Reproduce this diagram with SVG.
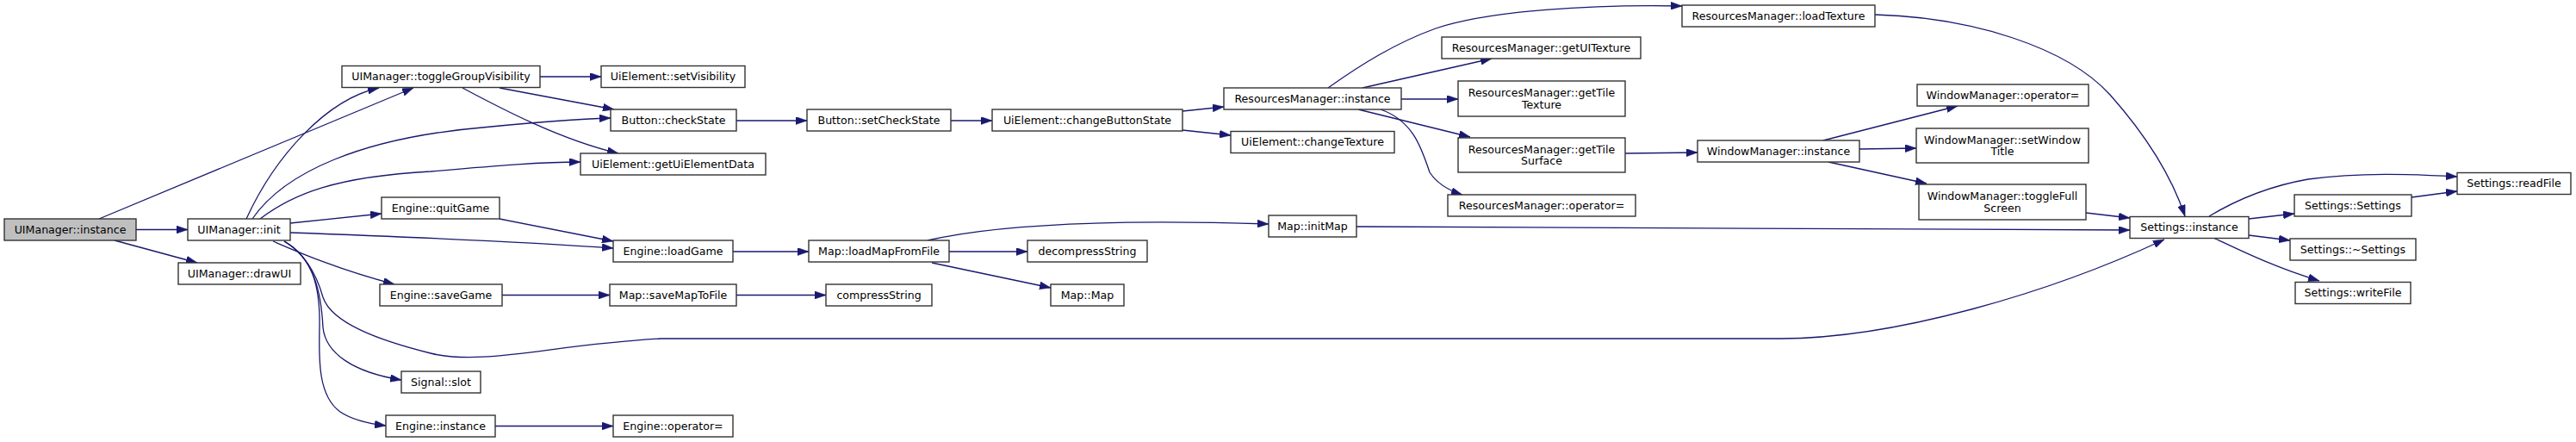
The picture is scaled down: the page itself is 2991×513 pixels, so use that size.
<svg xmlns="http://www.w3.org/2000/svg" width="2991" height="513" viewBox="0 0 2991 513">
<style>
.n rect{fill:#ffffff;stroke:#333333;stroke-width:1.4}
.n.root rect{fill:#bfbfbf}
.n text{font-family:"DejaVu Sans",Verdana,sans-serif;font-size:12.6px;fill:#000000;text-anchor:middle}
#edges path{fill:none;stroke:#191970;stroke-width:1.3;marker-end:url(#ah)}
</style>
<defs>
<marker id="ah" markerUnits="userSpaceOnUse" viewBox="0 0 13 9" refX="13" refY="4.5" markerWidth="13" markerHeight="9" orient="auto">
<path d="M0,0 L13,4.5 L0,9 Z" fill="#191970" stroke="#191970" stroke-width="0.5"/>
</marker>
</defs>
<rect width="2991" height="513" fill="#ffffff"/>
<g id="edges">
<path d="M158,266.5 L218,266.5"/>
<path d="M133,279 L229,305"/>
<path d="M115,254 L480,102"/>
<path d="M286,254 C320,180 380,115 440,102"/>
<path d="M293,254 C330,200 420,160 560,148 C620,142 670,138 709,137"/>
<path d="M302,254 C340,225 390,205 500,199 C580,192 630,188 674,188"/>
<path d="M337,259 L443,248"/>
<path d="M337,270 C420,273 600,280 712,288"/>
<path d="M580,254 L712,280"/>
<path d="M317,280 C345,292 390,312 458,330"/>
<path d="M330,280 C355,295 368,320 375,345 C385,375 440,395 500,410 C560,425 640,400 767,393 L2067,393 C2200,393 2380,340 2513,278"/>
<path d="M330,280 C365,300 373,340 375,380 C378,410 410,432 466,441"/>
<path d="M330,280 C362,298 372,330 371,380 C370,420 370,460 395,478 C410,488 430,492 448,494"/>
<path d="M627,89 L698,89"/>
<path d="M580,102 L713,127"/>
<path d="M537,102 C580,125 650,162 718,178"/>
<path d="M855,140 L937,140"/>
<path d="M1104,140 L1152,140"/>
<path d="M1373,129 L1421,124"/>
<path d="M1373,151 L1429,157"/>
<path d="M851,292 L939,292"/>
<path d="M583,342.5 L708,342.5"/>
<path d="M855,342.5 L959,342.5"/>
<path d="M575,494.5 L712,494.5"/>
<path d="M1077,279 C1150,262 1280,254 1473,260"/>
<path d="M1102,292 L1193,292"/>
<path d="M1082,305 L1220,334"/>
<path d="M1575,263 C1800,265 2100,268 2473,267"/>
<path d="M1542,102 C1580,75 1620,50 1667,33 C1730,12 1850,5 1953,7"/>
<path d="M1582,102 L1732,68"/>
<path d="M1627,115 L1693,115"/>
<path d="M1577,127 L1707,159"/>
<path d="M1603,127 C1640,140 1650,170 1660,200 C1670,215 1685,222 1698,226"/>
<path d="M1887,178 L1971,177"/>
<path d="M2177,17 C2290,20 2400,55 2450,110 C2490,155 2520,200 2537,251"/>
<path d="M2117,163 L2273,123"/>
<path d="M2159,173 L2225,172"/>
<path d="M2123,188 L2237,213"/>
<path d="M2422,247 L2473,253"/>
<path d="M2565,251 C2600,230 2640,215 2680,208 C2740,200 2800,202 2853,205"/>
<path d="M2611,254 L2664,248"/>
<path d="M2800,229 L2853,222"/>
<path d="M2611,273 L2659,279"/>
<path d="M2570,276 C2600,290 2640,310 2693,326"/>
</g>
<g id="n_uim_instance" class="n root"><rect x="5" y="254" width="153" height="25"/><text x="81.5" y="270.5">UIManager::instance</text></g>
<g id="n_uim_init" class="n"><rect x="218" y="254" width="119" height="25"/><text x="277.5" y="270.5">UIManager::init</text></g>
<g id="n_uim_drawui" class="n"><rect x="207" y="305" width="142" height="25"/><text x="278" y="321.5">UIManager::drawUI</text></g>
<g id="n_uim_toggle" class="n"><rect x="397" y="76.5" width="230" height="25"/><text x="512" y="93">UIManager::toggleGroupVisibility</text></g>
<g id="n_eng_quit" class="n"><rect x="443" y="229" width="137" height="25"/><text x="511.5" y="245.5">Engine::quitGame</text></g>
<g id="n_eng_save" class="n"><rect x="441" y="330" width="142" height="25"/><text x="512" y="346.5">Engine::saveGame</text></g>
<g id="n_signal_slot" class="n"><rect x="466" y="431" width="92" height="25"/><text x="512" y="447.5">Signal::slot</text></g>
<g id="n_eng_instance" class="n"><rect x="448" y="482" width="127" height="25"/><text x="511.5" y="498.5">Engine::instance</text></g>
<g id="n_ui_setvis" class="n"><rect x="698" y="76.5" width="167" height="25"/><text x="781.5" y="93">UiElement::setVisibility</text></g>
<g id="n_btn_check" class="n"><rect x="709" y="127" width="146" height="25"/><text x="782" y="143.5">Button::checkState</text></g>
<g id="n_ui_getdata" class="n"><rect x="674" y="178" width="215" height="25"/><text x="781.5" y="194.5">UiElement::getUiElementData</text></g>
<g id="n_eng_load" class="n"><rect x="712" y="279" width="139" height="25"/><text x="781.5" y="295.5">Engine::loadGame</text></g>
<g id="n_map_save" class="n"><rect x="708" y="330" width="147" height="25"/><text x="781.5" y="346.5">Map::saveMapToFile</text></g>
<g id="n_eng_op" class="n"><rect x="712" y="482" width="139" height="25"/><text x="781.5" y="498.5">Engine::operator=</text></g>
<g id="n_btn_setcheck" class="n"><rect x="937" y="127" width="167" height="25"/><text x="1020.5" y="143.5">Button::setCheckState</text></g>
<g id="n_map_loadfile" class="n"><rect x="939" y="279" width="163" height="25"/><text x="1020.5" y="295.5">Map::loadMapFromFile</text></g>
<g id="n_compress" class="n"><rect x="959" y="330" width="123" height="25"/><text x="1020.5" y="346.5">compressString</text></g>
<g id="n_ui_changebtn" class="n"><rect x="1152" y="127" width="221" height="25"/><text x="1262.5" y="143.5">UiElement::changeButtonState</text></g>
<g id="n_rm_instance" class="n"><rect x="1421" y="102" width="206" height="25"/><text x="1524" y="118.5">ResourcesManager::instance</text></g>
<g id="n_ui_changetex" class="n"><rect x="1429" y="152.5" width="190" height="25"/><text x="1524" y="169">UiElement::changeTexture</text></g>
<g id="n_map_init" class="n"><rect x="1473" y="250" width="102" height="25"/><text x="1524" y="266.5">Map::initMap</text></g>
<g id="n_decompress" class="n"><rect x="1193" y="279" width="139" height="25"/><text x="1262.5" y="295.5">decompressString</text></g>
<g id="n_map_map" class="n"><rect x="1220" y="330" width="85" height="25"/><text x="1262.5" y="346.5">Map::Map</text></g>
<g id="n_rm_loadtex" class="n"><rect x="1953" y="6" width="224" height="25"/><text x="2065" y="22.5">ResourcesManager::loadTexture</text></g>
<g id="n_rm_getui" class="n"><rect x="1674" y="43" width="231" height="25"/><text x="1789.5" y="59.5">ResourcesManager::getUITexture</text></g>
<g id="n_rm_gettiletex" class="n"><rect x="1693" y="94" width="194" height="41"/><text x="1790" y="112">ResourcesManager::getTile</text><text x="1790" y="125.5">Texture</text></g>
<g id="n_rm_gettilesurf" class="n"><rect x="1693" y="160" width="194" height="40"/><text x="1790" y="177.5">ResourcesManager::getTile</text><text x="1790" y="191">Surface</text></g>
<g id="n_rm_op" class="n"><rect x="1681" y="226" width="218" height="25"/><text x="1790" y="242.5">ResourcesManager::operator=</text></g>
<g id="n_wm_instance" class="n"><rect x="1971" y="163" width="188" height="25"/><text x="2065" y="179.5">WindowManager::instance</text></g>
<g id="n_wm_op" class="n"><rect x="2226" y="98" width="199" height="25"/><text x="2325.5" y="114.5">WindowManager::operator=</text></g>
<g id="n_wm_settitle" class="n"><rect x="2225" y="149" width="200" height="40"/><text x="2325" y="166.5">WindowManager::setWindow</text><text x="2325" y="180">Title</text></g>
<g id="n_wm_togglefs" class="n"><rect x="2228" y="214" width="194" height="41"/><text x="2325" y="232">WindowManager::toggleFull</text><text x="2325" y="245.5">Screen</text></g>
<g id="n_set_instance" class="n"><rect x="2473" y="251.5" width="138" height="25"/><text x="2542" y="268">Settings::instance</text></g>
<g id="n_set_readfile" class="n"><rect x="2853" y="200.5" width="132" height="25"/><text x="2919" y="217">Settings::readFile</text></g>
<g id="n_set_ctor" class="n"><rect x="2664" y="226" width="136" height="25"/><text x="2732" y="242.5">Settings::Settings</text></g>
<g id="n_set_dtor" class="n"><rect x="2659" y="277" width="146" height="25"/><text x="2732" y="293.5">Settings::~Settings</text></g>
<g id="n_set_writefile" class="n"><rect x="2665" y="327.5" width="134" height="25"/><text x="2732" y="344">Settings::writeFile</text></g>
</svg>
